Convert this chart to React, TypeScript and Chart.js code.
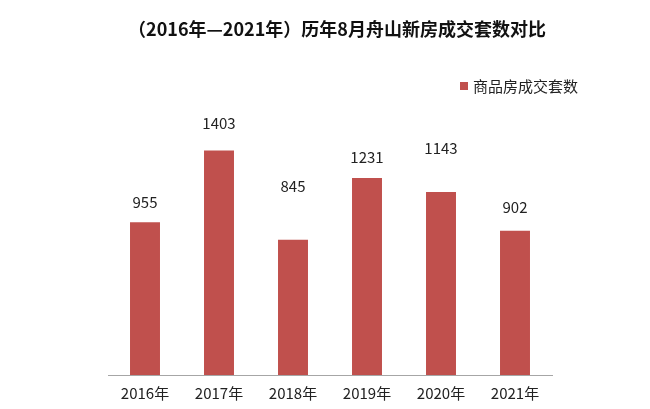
import React, { useEffect, useRef } from "react";
import { Chart, registerables } from "chart.js";

Chart.register(...registerables);

const titleText = "（2016年—2021年）历年8月舟山新房成交套数对比";
const seriesName = "商品房成交套数";
const categories = ["2016年", "2017年", "2018年", "2019年", "2020年", "2021年"];
const salesUnits = [955, 1403, 845, 1231, 1143, 902];

const BAR_COLOR = "#C0504D";
const TEXT_COLOR = "#222222";
const CJK_FONT = '"Noto Sans CJK SC", "Noto Sans", sans-serif';

// per-label vertical lift (px) above bar tops, mimicking the reference's hand-placed labels
const LABEL_LIFT = [20, 27, 54, 21, 44, 23];

const decorPlugin = {
  id: "decor",
  afterDraw(chart: any) {
    const ctx = chart.ctx as CanvasRenderingContext2D;
    ctx.save();
    // title
    ctx.fillStyle = "#111111";
    ctx.font = `bold 18px ${CJK_FONT}`;
    ctx.textAlign = "center";
    ctx.textBaseline = "middle";
    ctx.fillText(titleText, 337, 29);

    // legend
    const ds = chart.data.datasets[0];
    ctx.fillStyle = ds.backgroundColor;
    ctx.fillRect(460, 82, 8, 8);
    ctx.fillStyle = TEXT_COLOR;
    ctx.font = `15px ${CJK_FONT}`;
    ctx.textAlign = "left";
    ctx.fillText(ds.label, 473, 86);

    // data labels
    const meta = chart.getDatasetMeta(0);
    ctx.font = `15px ${CJK_FONT}`;
    ctx.textAlign = "center";
    ctx.fillStyle = TEXT_COLOR;
    meta.data.forEach((bar: any, i: number) => {
      const v = ds.data[i];
      ctx.fillText(String(v), bar.x, bar.y - LABEL_LIFT[i]);
    });
    ctx.restore();
  },
};

export default function App() {
  const ref = useRef<HTMLCanvasElement>(null);
  useEffect(() => {
    document.body.style.margin = "0";
    const chart = new Chart(ref.current!, {
      type: "bar",
      data: {
        labels: categories,
        datasets: [
          {
            label: seriesName,
            data: salesUnits,
            backgroundColor: BAR_COLOR,
            categoryPercentage: 1,
            barPercentage: 0.405,
          },
        ],
      },
      options: {
        animation: false,
        responsive: false,
        layout: { padding: { left: 108, right: 98, top: 119, bottom: 7 } },
        plugins: {
          legend: { display: false },
          title: { display: false },
          tooltip: { enabled: false },
        },
        scales: {
          x: {
            grid: { display: false, drawTicks: false },
            border: { display: true, color: "#A6A6A6", width: 1 },
            ticks: {
              color: TEXT_COLOR,
              font: { family: CJK_FONT, size: 15 },
              padding: 9,
            },
            afterFit: (s: any) => {
              s.height = 27;
            },
          },
          y: {
            display: false,
            min: 0,
            max: 1600,
          },
        },
      },
      plugins: [decorPlugin],
    });
    return () => chart.destroy();
  }, []);
  return (
    <div style={{ width: 650, height: 409, background: "#fff" }}>
      <canvas ref={ref} width={650} height={409} />
    </div>
  );
}
